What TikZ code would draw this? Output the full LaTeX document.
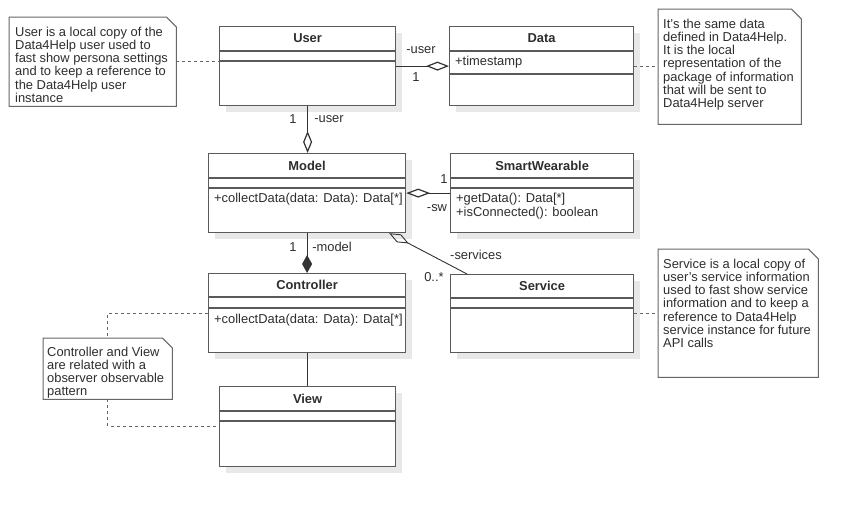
\documentclass[tikz,border=0pt]{standalone}
\usepackage{fontspec}
\setmainfont{Liberation Sans}
\usetikzlibrary{arrows.meta,calc,shadows}
\definecolor{linec}{HTML}{5A5A5A}
\definecolor{connc}{HTML}{333333}
\definecolor{textc}{HTML}{2E2E2E}
\definecolor{notec}{HTML}{666666}
\begin{document}
\begin{tikzpicture}[x=1pt,y=-1pt,
  font=\fontsize{12.9}{13.3}\selectfont, text=textc,
  cls/.style={draw=linec, line width=1.2pt, fill=white, anchor=north west, inner sep=0pt,
    drop shadow={shadow xshift=6pt, shadow yshift=-6pt, fill=black!9, opacity=1}},
  sepline/.style={draw=linec, line width=1.2pt},
  ctitle/.style={font=\fontsize{12.9}{13.3}\selectfont\bfseries, inner sep=0pt},
  member/.style={anchor=west, inner sep=0pt},
  noteframe/.style={anchor=north west, inner sep=0pt},
  noteline/.style={draw=notec, line width=1pt, fill=white},
  notetext/.style={anchor=north west, inner sep=0pt, align=left},
  dots/.style={draw=notec, line width=1pt, dash pattern=on 3pt off 3pt},
  conn/.style={draw=connc, line width=1.2pt},
  lbl/.style={inner sep=0pt}
]
\useasboundingbox[fill=white] (0,0) rectangle (858,506);

% ---------- classes ----------
\node[cls, minimum width=176pt, minimum height=79pt] (user) at (219,26) {};
\node[cls, minimum width=184pt, minimum height=79pt] (data) at (449,26) {};
\node[cls, minimum width=197pt, minimum height=79pt] (model) at (208,153) {};
\node[cls, minimum width=183pt, minimum height=79pt] (sw) at (450,153) {};
\node[cls, minimum width=197pt, minimum height=79pt] (controller) at (208,273) {};
\node[cls, minimum width=183pt, minimum height=78pt] (service) at (450,274) {};
\node[cls, minimum width=176pt, minimum height=80pt] (view) at (219,386) {};

% separators
\foreach \c/\a/\b in {user/25/35, data/25/48, model/25/35, sw/25/35, controller/24/35, service/24/34, view/25/35}{
  \draw[sepline] ($(\c.north west)+(0,\a)$) -- ($(\c.north east)+(0,\a)$);
  \draw[sepline] ($(\c.north west)+(0,\b)$) -- ($(\c.north east)+(0,\b)$);
}

% titles
\node[ctitle] (usert) at ($(user.north)+(0,12.5)$) {User};
\node[ctitle] (datat) at ($(data.north)+(0,12.5)$) {Data};
\node[ctitle] (modelt) at ($(model.north)+(0,12.5)$) {Model};
\node[ctitle] (swt) at ($(sw.north)+(0,12.5)$) {SmartWearable};
\node[ctitle] (controllert) at ($(controller.north)+(0,12)$) {Controller};
\node[ctitle] (servicet) at ($(service.north)+(0,12)$) {Service};
\node[ctitle] (viewt) at ($(view.north)+(0,12.5)$) {View};

% members
\node[member] (dataa) at ($(data.north west)+(6,36.5)$) {+timestamp};
\node[member] (modelm) at ($(model.north west)+(6,46)$) {+collectData(data: Data): Data[*]};
\node[member] (swm1) at ($(sw.north west)+(6,46)$) {+getData(): Data[*]};
\node[member] (swm2) at ($(sw.north west)+(6,60)$) {+isConnected(): boolean};
\node[member] (controllerm) at ($(controller.north west)+(6,47)$) {+collectData(data: Data): Data[*]};

% ---------- notes ----------
\node[noteframe, minimum width=167pt, minimum height=89pt] (unote) at (9,17) {};
\node[noteframe, minimum width=143pt, minimum height=115pt] (dnote) at (658,9) {};
\node[noteframe, minimum width=160pt, minimum height=128pt] (snote) at (658,249) {};
\node[noteframe, minimum width=129pt, minimum height=61pt] (cnote) at (43,338) {};

% connectors to notes (dotted)
\draw[dots] (unote.east) -- (unote.east -| user.west);
\draw[dots] (data.east) -- (data.east -| dnote.west);
\draw[dots] (service.east) -- (service.east -| snote.west);
\draw[dots] (controller.west) -| (cnote.north);
\draw[dots] (cnote.south) |- (view.west);

\foreach \n in {unote,dnote,snote,cnote}{
  \draw[noteline] (\n.north west) -- ($(\n.north east)+(-10,0)$) -- ($(\n.north east)+(0,10)$)
    -- (\n.south east) -- (\n.south west) -- cycle;
}

\node[notetext] (unotet) at ($(unote.north west)+(6,9.5)$) {User is a local copy of the\\Data4Help user used to\\fast show persona settings\\and to keep a reference to\\the Data4Help user\\instance};
\node[notetext] (dnotet) at ($(dnote.north west)+(5,9.5)$) {It's the same data\\defined in Data4Help.\\It is the local\\representation of the\\package of information\\that will be sent to\\Data4Help server};
\node[notetext] (snotet) at ($(snote.north west)+(5,9.5)$) {Service is a local copy of\\user's service information\\used to fast show service\\information and to keep a\\reference to Data4Help\\service instance for future\\API calls};
\node[notetext] (cnotet) at ($(cnote.north west)+(4,8.5)$) {Controller and View\\are related with a\\observer observable\\pattern};

% ---------- associations ----------
\draw[conn, -{Diamond[open, length=23pt, width=9pt, line width=1.2pt]}] (user.east) -- (data.west);
\draw[conn, -{Diamond[open, length=22pt, width=9pt, line width=1.2pt]}] (user.south) -- (user.south |- model.north);
\draw[conn, -{Diamond[open, length=24pt, width=9pt, line width=1.2pt]}] (sw.west) -- (model.east);
\draw[conn, -{Diamond[length=18pt, width=10pt]}] (model.south) -- (controller.north);
\coordinate (msA) at ($(model.south east)+(-17,0)$);
\coordinate (msB) at ($(service.north west)+(17,0)$);
\draw[draw=connc, line width=0.9pt, -{Diamond[open, length=22pt, width=9pt, line width=0.9pt]}] (msB) -- (msA);
\draw[conn] (controller.south) -- (controller.south |- view.north);

% ---------- labels ----------
\node[lbl] (l1) at (421,50) {-user};
\node[lbl] (l2) at (416,77) {1};
\node[lbl] (l3) at (293,119) {1};
\node[lbl] (l4) at (329,119) {-user};
\node[lbl] (l5) at (444,179) {1};
\node[lbl] (l6) at (437,208) {-sw};
\node[lbl] (l7) at (293,247) {1};
\node[lbl] (l8) at (332,247) {-model};
\node[lbl] (l9) at (476,255) {-services};
\node[lbl] (l10) at (434,277) {0..*};
\end{tikzpicture}
\end{document}
